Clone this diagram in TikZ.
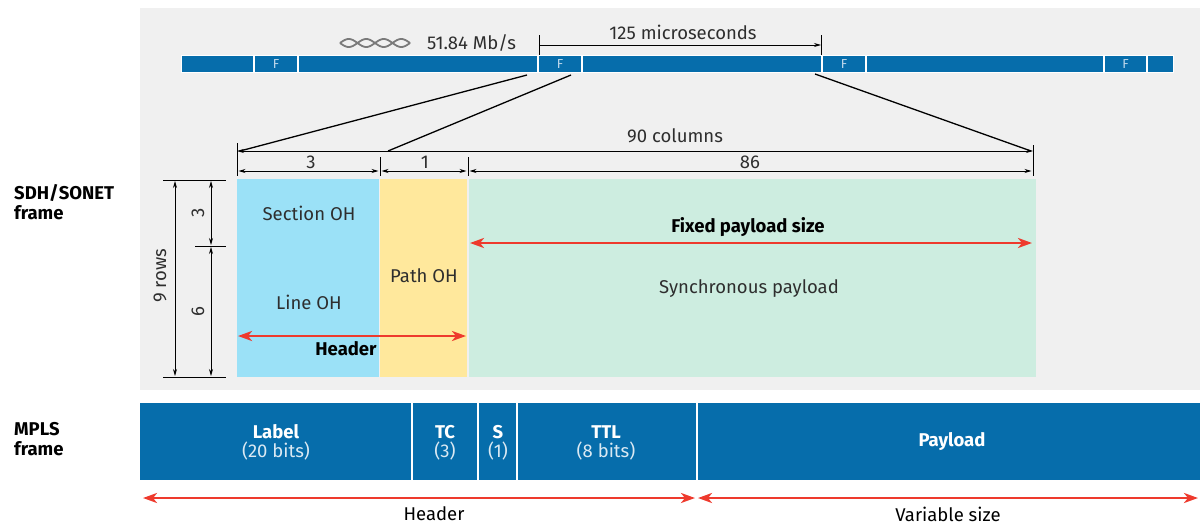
\documentclass[tikz,border=0pt]{standalone}
\usepackage{fontspec}
\setmainfont{Fira Sans}
\usetikzlibrary{arrows.meta}
\definecolor{bgrey}{HTML}{F0F0F0}
\definecolor{dblue}{HTML}{066DAB}
\definecolor{lblue}{HTML}{9BE1F7}
\definecolor{lyellow}{HTML}{FFE89C}
\definecolor{lmint}{HTML}{CDEDE0}
\definecolor{myred}{HTML}{EE3A2D}
\definecolor{txt}{HTML}{2E2E2E}
\definecolor{ftxt}{HTML}{BFD9EC}
\definecolor{wave}{HTML}{7A7A7A}
\begin{document}
\begin{tikzpicture}[x=1pt,y=-1pt,
  seg/.style={fill=dblue, inner sep=0, outer sep=0, minimum height=16pt},
  fbox/.style={inner sep=0, outer sep=0, minimum height=198pt},
  mseg/.style={fill=dblue, inner sep=0, outer sep=0, minimum height=77pt},
  lbl/.style={font=\fontsize{18.5}{20}\selectfont, text=txt, inner sep=0},
  blbl/.style={font=\fontsize{18.5}{20}\selectfont\bfseries, text=black, inner sep=0},
  mlbl/.style={font=\fontsize{18.5}{20}\selectfont, text=black, inner sep=0},
  wlbl/.style={font=\fontsize{18.5}{20}\selectfont\bfseries, text=white, inner sep=0},
  wsub/.style={font=\fontsize{18.5}{20}\selectfont, text=white!85!dblue, inner sep=0},
  ftext/.style={font=\fontsize{13}{14}\selectfont, text=ftxt, inner sep=0},
  side/.style={font=\fontsize{18.5}{20}\selectfont\bfseries, text=black, align=left, inner sep=0, anchor=west},
  dimarr/.style={draw=black, line width=0.8pt, {Stealth[length=7pt,width=4pt]}-{Stealth[length=7pt,width=4pt]}},
  endarr/.style={draw=black, line width=0.8pt, -{Stealth[length=7pt,width=4pt]}},
  tick/.style={draw=black, line width=0.8pt},
  conn/.style={draw=black, line width=1.3pt},
  redarr/.style={draw=myred, line width=2.5pt, {Stealth[length=14pt,width=10pt,inset=4pt]}-{Stealth[length=14pt,width=10pt,inset=4pt]}}
]
\useasboundingbox (0,0) rectangle (1200,525);
\fill[bgrey] (140,8) rectangle (1200,390);

% top bit stream
\fill[white] (181,55) rectangle (1174,73);
\node[seg, minimum width=71pt] (b1) at (217.5,64) {};
\node[seg, minimum width=42pt] (f1) at (276,64) {};
\node[seg, minimum width=238pt] (b2) at (418,64) {};
\node[seg, minimum width=42pt] (f2) at (560,64) {};
\node[seg, minimum width=238pt] (b3) at (702,64) {};
\node[seg, minimum width=42pt] (f3) at (844,64) {};
\node[seg, minimum width=236pt] (b4) at (985,64) {};
\node[seg, minimum width=41pt] (f4) at (1125.5,64) {};
\node[seg, minimum width=25pt] (b5) at (1160.5,64) {};
\foreach \n in {f1,f2,f3,f4} \node[ftext] at (\n) {F};

% wave and rate
\draw[wave, line width=1.8pt] plot[domain=340:410, samples=90] (\x,{43+4*sin((\x-340)/17.5*180)});
\draw[wave, line width=1.8pt] plot[domain=340:410, samples=90] (\x,{43-4*sin((\x-340)/17.5*180)});
\node[lbl, anchor=west] (rate) at (427,43) {51.84 Mb/s};

% 125 microseconds
\coordinate (t1a) at (539,35); \coordinate (t1b) at (539,55);
\coordinate (t2a) at (821,35); \coordinate (t2b) at (821,55);
\draw[tick] (t1a) -- (t1b);
\draw[tick] (t2a) -- (t2b);
\coordinate (us1) at (539,45); \coordinate (us2) at (821,45);
\draw[endarr] (us1) -- (us2);
\node[lbl] (us) at (683,32) {125 microseconds};

% frame boxes
\node[fbox, fill=lblue, minimum width=142pt] (sec) at (308,278) {};
\node[fbox, fill=lyellow, minimum width=87pt] (path) at (423.5,278) {};
\node[fbox, fill=lmint, minimum width=567pt] (pay) at (752.5,278) {};

% connectors from bit stream to frame
\coordinate (c1s) at (527,75); \coordinate (c1e) at (240,151);
\coordinate (c2s) at (571,75); \coordinate (c2e) at (388,151);
\coordinate (c3s) at (815,74); \coordinate (c3e) at (1031,151);
\draw[conn] (c1s) -- (c1e);
\draw[conn] (c2s) -- (c2e);
\draw[conn] (c3s) -- (c3e);

% column dimensions
\coordinate (k0a) at (237,143); \coordinate (k0b) at (237,176);
\coordinate (k1a) at (380,157); \coordinate (k1b) at (380,176);
\coordinate (k2a) at (468,157); \coordinate (k2b) at (468,176);
\coordinate (k3a) at (1033,145); \coordinate (k3b) at (1033,176);
\draw[tick] (k0a) -- (k0b);
\draw[tick] (k1a) -- (k1b);
\draw[tick] (k2a) -- (k2b);
\draw[tick] (k3a) -- (k3b);
\coordinate (d90a) at (237,151); \coordinate (d90b) at (1033,151);
\draw[dimarr] (d90a) -- (d90b);
\node[lbl] (c90) at (675,136) {90 columns};
\coordinate (d3a) at (237,171); \coordinate (d3b) at (380,171);
\coordinate (d1a) at (380,171); \coordinate (d1b) at (468,171);
\coordinate (d86a) at (468,171); \coordinate (d86b) at (1033,171);
\draw[dimarr] ([xshift=1.5pt]d3a) -- ([xshift=-1.5pt]d3b);
\draw[dimarr] ([xshift=1.5pt]d1a) -- ([xshift=-1.5pt]d1b);
\draw[dimarr] ([xshift=1.5pt]d86a) -- ([xshift=-1.5pt]d86b);
\node[lbl] (n3) at (311,162) {3};
\node[lbl] (n1) at (425,162) {1};
\node[lbl] (n86) at (750,162) {86};

% row dimensions
\coordinate (r0a) at (163,180); \coordinate (r0b) at (226,180);
\coordinate (r1a) at (195,246); \coordinate (r1b) at (226,246);
\coordinate (r2a) at (163,377); \coordinate (r2b) at (226,377);
\draw[tick] (r0a) -- (r0b);
\draw[tick] (r1a) -- (r1b);
\draw[tick] (r2a) -- (r2b);
\coordinate (v9a) at (175,181); \coordinate (v9b) at (175,376);
\coordinate (v3a) at (211,181); \coordinate (v3b) at (211,245);
\coordinate (v6a) at (211,247); \coordinate (v6b) at (211,376);
\draw[dimarr] (v9a) -- (v9b);
\draw[dimarr] (v3a) -- (v3b);
\draw[dimarr] (v6a) -- (v6b);
\node[lbl, rotate=90] (rows9) at (160,276) {9 rows};
\node[lbl, rotate=90] (rows3) at (198,213) {3};
\node[lbl, rotate=90] (rows6) at (198,312) {6};

% frame labels
\node[lbl] (secoh) at (309,213) {Section OH};
\node[lbl] (lineoh) at (309,302) {Line OH};
\node[lbl] (pathoh) at (424,276) {Path OH};
\node[lbl] (sync) at (749,289) {Synchronous payload};
\node[blbl] (fixed) at (748,227) {Fixed payload size};
\coordinate (fx1) at (470,243); \coordinate (fx2) at (1032,243);
\draw[redarr] (fx1) -- (fx2);
\node[blbl] (hdr1) at (346,349) {Header};
\coordinate (hx1) at (238,336); \coordinate (hx2) at (466,336);
\draw[redarr] (hx1) -- (hx2);

% side labels
\node[side] (sdh) at (14,202) {SDH/SONET\\frame};
\node[side] (mpls) at (14,439) {MPLS\\frame};

% MPLS frame
\node[mseg, minimum width=271pt] (mlabel) at (275.5,441.5) {};
\node[mseg, minimum width=64pt] (mtc) at (445,441.5) {};
\node[mseg, minimum width=37pt] (ms) at (497.5,441.5) {};
\node[mseg, minimum width=178pt] (mttl) at (607,441.5) {};
\node[mseg, minimum width=502pt] (mpay) at (949,441.5) {};
\node[wlbl] at (276,432) {Label};
\node[wsub] at (276,451) {(20 bits)};
\node[wlbl] at (445,432) {TC};
\node[wsub] at (445,451) {(3)};
\node[wlbl] at (498,432) {S};
\node[wsub] at (498,451) {(1)};
\node[wlbl] at (606,432) {TTL};
\node[wsub] at (606,451) {(8 bits)};
\node[wlbl] at (952,442) {Payload};

\coordinate (h1) at (143,498); \coordinate (h2) at (695,498);
\coordinate (v1) at (698,498); \coordinate (v2) at (1198,498);
\draw[redarr] (h1) -- (h2);
\draw[redarr] (v1) -- (v2);
\node[mlbl] (hdr2) at (434,514) {Header};
\node[mlbl] (var) at (948,514) {Variable size};
\end{tikzpicture}
\end{document}
